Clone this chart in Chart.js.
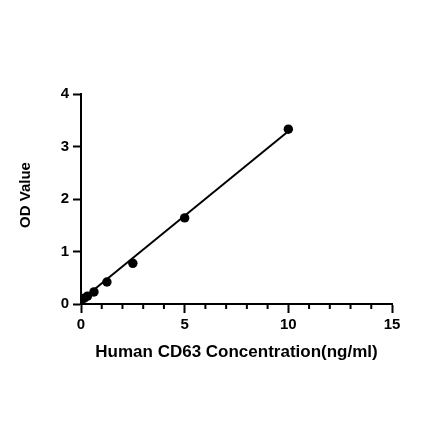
<!DOCTYPE html>
<html>
<head>
<meta charset="utf-8">
<script src="https://cdn.jsdelivr.net/npm/chart.js@4.4.0/dist/chart.umd.min.js"></script>
<style>
html,body{margin:0;padding:0;background:#fff;}
canvas{display:block;}
</style>
</head>
<body>
<canvas id="c" width="440" height="441" style="width:440px;height:441px;"></canvas>
<script>
const concentrations = [10, 5, 2.5, 1.25, 0.625, 0.3125, 0.156, 0];
const odValues = [3.33, 1.64, 0.775, 0.42, 0.23, 0.15, 0.11, 0.075];
const fitX = [0, 10];
const fitY = [0.07, 3.29];
const xMinorTicks = [1, 2, 3, 4, 6, 7, 8, 9, 11, 12, 13, 14];
const xTitle = 'Human CD63 Concentration(ng/ml)';
const yTitle = 'OD Value';

const FONT = "'Liberation Sans', Arial, sans-serif";

const extrasPlugin = {
  id: 'extras',
  afterDraw(chart) {
    const ctx = chart.ctx;
    const xs = chart.scales.x;
    const ys = chart.scales.y;
    const y0 = chart.chartArea.bottom;
    ctx.save();
    ctx.strokeStyle = '#000';
    ctx.lineWidth = 2;
    xMinorTicks.forEach(v => {
      const px = xs.getPixelForValue(v);
      ctx.beginPath();
      ctx.moveTo(px, y0);
      ctx.lineTo(px, y0 + 5);
      ctx.stroke();
    });
    ctx.restore();
    ctx.save();
    ctx.fillStyle = '#000';
    ctx.font = 'bold 15px ' + FONT;
    ctx.textAlign = 'center';
    ctx.textBaseline = 'middle';
    ctx.translate(26, (ys.top + ys.bottom) / 2 - 4);
    ctx.rotate(-Math.PI / 2);
    ctx.fillText(yTitle, 0, 0);
    ctx.restore();
  }
};

new Chart(document.getElementById('c'), {
  type: 'scatter',
  data: {
    datasets: [
      {
        data: fitX.map((x, i) => ({x: x, y: fitY[i]})),
        showLine: true,
        borderColor: '#000',
        borderWidth: 2,
        pointRadius: 0,
        fill: false
      },
      {
        data: concentrations.map((x, i) => ({x: x, y: odValues[i]})),
        showLine: false,
        pointRadius: 4.7,
        pointBackgroundColor: '#000',
        pointBorderColor: '#000',
        pointBorderWidth: 0
      }
    ]
  },
  options: {
    responsive: false,
    animation: false,
    devicePixelRatio: 1,
    layout: { padding: { top: 94, right: 48, bottom: 0, left: 0 } },
    plugins: { legend: { display: false }, tooltip: { enabled: false } },
    scales: {
      x: {
        type: 'linear',
        position: 'bottom',
        min: 0, max: 15,
        afterFit(scale) { scale.height = 137; },
        grid: { drawOnChartArea: false, tickLength: 9, tickWidth: 2, tickColor: '#000' },
        border: { color: '#000', width: 2 },
        ticks: { stepSize: 5, color: '#000', padding: 3, maxRotation: 0, minRotation: 0, font: { family: FONT, size: 15, weight: 'bold' } },
        title: { display: true, text: xTitle, color: '#000', padding: { top: 0, bottom: 78 }, font: { family: FONT, size: 17, weight: 'bold' } }
      },
      y: {
        type: 'linear',
        position: 'left',
        min: 0, max: 4,
        afterFit(scale) { scale.width = 81; },
        grid: { drawOnChartArea: false, tickLength: 8, tickWidth: 2, tickColor: '#000' },
        border: { color: '#000', width: 2 },
        ticks: { stepSize: 1, color: '#000', padding: 4, font: { family: FONT, size: 15, weight: 'bold' } },
        title: { display: false }
      }
    }
  },
  plugins: [extrasPlugin]
});
</script>
</body>
</html>
